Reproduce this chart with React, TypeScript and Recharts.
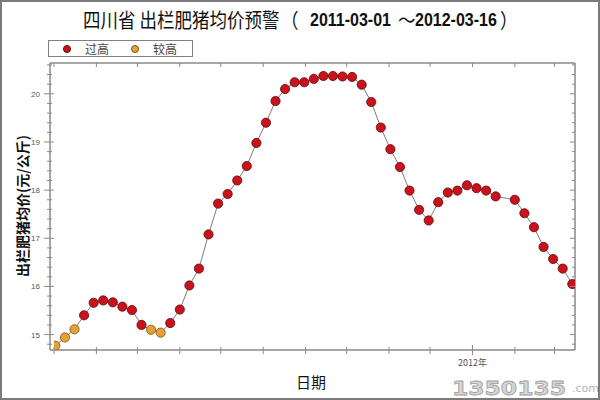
import React from 'react';
import { LineChart, Line, XAxis, YAxis, Legend } from 'recharts';

// weekly survey dates (no survey in the Spring Festival week of 2012-01-25)
const dates = [
  '2011-03-02', '2011-03-09', '2011-03-16', '2011-03-23', '2011-03-30',
  '2011-04-06', '2011-04-13', '2011-04-20', '2011-04-27', '2011-05-04',
  '2011-05-11', '2011-05-18', '2011-05-25', '2011-06-01', '2011-06-08',
  '2011-06-15', '2011-06-22', '2011-06-29', '2011-07-06', '2011-07-13',
  '2011-07-20', '2011-07-27', '2011-08-03', '2011-08-10', '2011-08-17',
  '2011-08-24', '2011-08-31', '2011-09-07', '2011-09-14', '2011-09-21',
  '2011-09-28', '2011-10-05', '2011-10-12', '2011-10-19', '2011-10-26',
  '2011-11-02', '2011-11-09', '2011-11-16', '2011-11-23', '2011-11-30',
  '2011-12-07', '2011-12-14', '2011-12-21', '2011-12-28', '2012-01-04',
  '2012-01-11', '2012-01-18', '2012-02-01', '2012-02-08', '2012-02-15',
  '2012-02-22', '2012-02-29', '2012-03-07', '2012-03-14',
];

// 元/公斤
const prices = [
  14.77, 14.94, 15.11, 15.40, 15.66, 15.71, 15.67, 15.58, 15.51, 15.20,
  15.10, 15.04, 15.24, 15.52, 16.02, 16.37, 17.08, 17.72, 17.92, 18.20,
  18.50, 18.98, 19.40, 19.85, 20.10, 20.24, 20.24, 20.31, 20.37, 20.37,
  20.36, 20.35, 20.19, 19.83, 19.30, 18.85, 18.48, 17.99, 17.59, 17.37,
  17.75, 17.95, 17.99, 18.10, 18.04, 17.99, 17.87, 17.80, 17.52, 17.23,
  16.82, 16.57, 16.37, 16.05,
];

const levels = [
  '较高', '较高', '较高', '过高', '过高', '过高', '过高', '过高', '过高', '过高',
  '较高', '较高', '过高', '过高', '过高', '过高', '过高', '过高', '过高', '过高',
  '过高', '过高', '过高', '过高', '过高', '过高', '过高', '过高', '过高', '过高',
  '过高', '过高', '过高', '过高', '过高', '过高', '过高', '过高', '过高', '过高',
  '过高', '过高', '过高', '过高', '过高', '过高', '过高', '过高', '过高', '过高',
  '过高', '过高', '过高', '过高',
];

const legendLevels = ['过高', '较高'];

const monthTicks = [
  '2011-03-01', '2011-04-01', '2011-05-01', '2011-06-01', '2011-07-01',
  '2011-08-01', '2011-09-01', '2011-10-01', '2011-11-01', '2011-12-01',
  '2012-01-01', '2012-02-01', '2012-03-01',
];

const yTicks = [
  14.8, 15, 15.2, 15.4, 15.6, 15.8, 16, 16.2, 16.4, 16.6, 16.8, 17, 17.2, 17.4, 17.6,
  17.8, 18, 18.2, 18.4, 18.6, 18.8, 19, 19.2, 19.4, 19.6, 19.8, 20, 20.2, 20.4, 20.6,
];

const dateStart = '2011-03-01';
const dateEnd = '2012-03-16';

const levelFill: Record<string, string> = { '过高': '#c9121b', '较高': '#e4a136' };
const levelStroke: Record<string, string> = { '过高': '#5e0a0c', '较高': '#7d5416' };

const toTime = (d: string) => Date.parse(d + 'T00:00:00Z');

const data = dates.map((d, i) => ({ t: toTime(d), price: prices[i], level: levels[i] }));

const AXIS = '#8a8a8a';
const CJK = '"Noto Sans CJK SC", "Noto Sans", sans-serif';
const LATIN_BOLD = '"Liberation Sans", Arial, sans-serif';

const isMajor = (v: number) => Math.abs(v - Math.round(v)) < 1e-6;

const LeftTick = (props: any) => {
  const { x, y, payload } = props;
  const major = isMajor(payload.value);
  return (
    <g>
      <line x1={x - (major ? 6 : 3)} x2={x + (major ? 4 : 2)} y1={y} y2={y} stroke={AXIS} />
      {major && (
        <text x={x - 10} y={y} dy={3} textAnchor="end" fontSize={8} fill="#555" fontFamily="Arial, sans-serif">
          {Math.round(payload.value)}
        </text>
      )}
    </g>
  );
};

const RightTick = (props: any) => {
  const { x, y, payload } = props;
  const major = isMajor(payload.value);
  return <line x1={x - (major ? 5 : 3)} x2={x} y1={y} y2={y} stroke={AXIS} />;
};

const BottomTick = (props: any) => {
  const { x, y, payload } = props;
  const d = new Date(payload.value);
  const isYear = d.getUTCMonth() === 0;
  return (
    <g>
      <line x1={x} x2={x} y1={y - (isYear ? 5 : 3)} y2={y + (isYear ? 5 : 4)} stroke={AXIS} />
      {isYear && (
        <text x={x} y={y + 16} textAnchor="middle" fontSize={9} fill="#555" fontFamily={CJK}>
          {`${d.getUTCFullYear()}年`}
        </text>
      )}
    </g>
  );
};

const TopTick = (props: any) => {
  const { x, y } = props;
  return <line x1={x} x2={x} y1={y} y2={y + 4} stroke={AXIS} />;
};

const renderDot = (props: any) => {
  const { cx, cy, payload, index } = props;
  return (
    <circle
      key={`dot-${index}`}
      cx={cx}
      cy={cy}
      r={4.6}
      fill={levelFill[payload.level]}
      stroke={levelStroke[payload.level]}
      strokeWidth={0.8}
    />
  );
};

const LegendBox = () => (
  <div
    style={{
      width: 143,
      height: 15,
      border: '1px solid #808080',
      background: '#fff',
      display: 'flex',
      alignItems: 'center',
      fontFamily: CJK,
      fontSize: 12,
      color: '#444',
      lineHeight: '15px',
    }}
  >
    {legendLevels.map((lv) => (
      <div key={lv} style={{ display: 'flex', alignItems: 'center', marginLeft: 14, marginRight: 8 }}>
        <span
          style={{
            display: 'inline-block',
            width: 8,
            height: 8,
            borderRadius: '50%',
            background: levelFill[lv],
            border: `1px solid ${levelStroke[lv]}`,
            boxSizing: 'border-box',
            marginRight: 14,
          }}
        />
        <span>{lv}</span>
      </div>
    ))}
  </div>
);

const titlePart = (left: number, text: string, bold: boolean) => (
  <div
    style={{
      position: 'absolute',
      left,
      top: 8,
      whiteSpace: 'nowrap',
      fontFamily: bold ? LATIN_BOLD : CJK,
      fontWeight: bold ? 700 : 400,
      fontSize: bold ? 16 : 17.5,
      lineHeight: '24px',
      color: '#111',
      transform: 'scaleY(1.15)',
    }}
  >
    {text}
  </div>
);

const App: React.FC = () => {
  const domain = [toTime(dateStart), toTime(dateEnd)];
  const xTicks = monthTicks.map(toTime);
  return (
    <div style={{ position: 'absolute', left: 0, top: 0, width: 600, height: 400, background: '#fff' }}>
      <LineChart width={600} height={400} data={data} margin={{ top: 62, right: 24, bottom: 20, left: 20 }}>
        <XAxis
          dataKey="t"
          type="number"
          domain={domain}
          ticks={xTicks}
          interval={0}
          padding={{ left: 4, right: 0 }}
          height={30}
          tickSize={0}
          tickMargin={0}
          tickLine={false}
          axisLine={{ stroke: AXIS, strokeWidth: 1.5 }}
          tick={<BottomTick />}
          allowDataOverflow
        />
        <XAxis
          xAxisId="top"
          dataKey="t"
          type="number"
          orientation="top"
          domain={domain}
          ticks={xTicks}
          interval={0}
          padding={{ left: 4, right: 0 }}
          height={1}
          tickSize={0}
          tickMargin={0}
          tickLine={false}
          axisLine={{ stroke: AXIS, strokeWidth: 1.5 }}
          tick={<TopTick />}
          allowDataOverflow
        />
        <YAxis
          type="number"
          domain={[14.68, 20.64]}
          ticks={yTicks}
          interval={0}
          width={30}
          tickSize={0}
          tickMargin={0}
          tickLine={false}
          axisLine={{ stroke: AXIS, strokeWidth: 1.5 }}
          tick={<LeftTick />}
          allowDataOverflow
        />
        <YAxis
          yAxisId="right"
          type="number"
          orientation="right"
          domain={[14.68, 20.64]}
          ticks={yTicks}
          interval={0}
          width={1}
          tickSize={0}
          tickMargin={0}
          tickLine={false}
          axisLine={{ stroke: AXIS, strokeWidth: 1.5 }}
          tick={<RightTick />}
          allowDataOverflow
        />
        <Legend
          layout="vertical"
          verticalAlign="middle"
          align="center"
          wrapperStyle={{ top: 40, left: 48, width: 'auto', height: 'auto' }}
          content={<LegendBox />}
        />
        <Line
          type="linear"
          dataKey="price"
          stroke="#7d7d7d"
          strokeWidth={1}
          dot={renderDot}
          activeDot={false}
          isAnimationActive={false}
        />
      </LineChart>

      {titlePart(83, '四川省 出栏肥猪均价预警', false)}
      {titlePart(281, '（', false)}
      {titlePart(310, '2011-03-01', true)}
      {titlePart(398, '～', false)}
      {titlePart(415, '2012-03-16', true)}
      {titlePart(500, '）', false)}

      <div
        style={{
          position: 'absolute',
          left: 22,
          top: 206,
          transform: 'translate(-50%, -50%) rotate(-90deg)',
          whiteSpace: 'nowrap',
          fontFamily: CJK,
          fontWeight: 700,
          fontSize: 14,
          color: '#111',
        }}
      >
        出栏肥猪均价(元/公斤)
      </div>

      <div
        style={{
          position: 'absolute',
          left: 311,
          top: 381,
          transform: 'translate(-50%, -50%)',
          whiteSpace: 'nowrap',
          fontFamily: CJK,
          fontSize: 15,
          color: '#111',
        }}
      >
        日期
      </div>

      <div
        style={{
          position: 'absolute',
          left: 452,
          top: 376,
          whiteSpace: 'nowrap',
          fontFamily: '"DejaVu Sans", sans-serif',
          fontWeight: 700,
          fontSize: 20,
          lineHeight: '24px',
          color: '#d6d6d6',
          WebkitTextStroke: '0.8px #a0a0a0',
          transform: 'scaleX(1.17)',
          transformOrigin: 'left center',
        }}
      >
        1350135
      </div>
      <div
        style={{
          position: 'absolute',
          left: 572,
          top: 382,
          whiteSpace: 'nowrap',
          fontFamily: '"DejaVu Sans", sans-serif',
          fontSize: 11,
          lineHeight: '14px',
          color: '#b4b4b4',
        }}
      >
        .com
      </div>

      <div
        style={{
          position: 'absolute',
          left: 0,
          top: 0,
          width: 600,
          height: 400,
          boxSizing: 'border-box',
          border: '2px solid #7a7a7a',
          pointerEvents: 'none',
        }}
      />
    </div>
  );
};

export default App;
